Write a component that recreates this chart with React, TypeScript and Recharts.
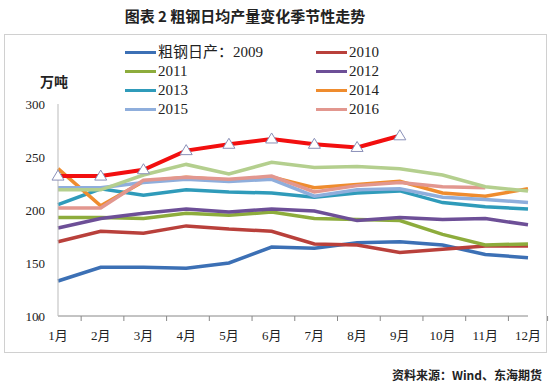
import { LineChart, Line, XAxis, YAxis } from 'recharts';

const months = ['1月', '2月', '3月', '4月', '5月', '6月', '7月', '8月', '9月', '10月', '11月', '12月'];
const yTicks = [100, 150, 200, 250, 300];

const y2009 = [133, 146, 146, 145, 150, 165, 164, 169, 170, 167, 158, 155];
const y2010 = [170, 180, 178, 185, 182, 180, 168, 167, 160, 163, 166, 166];
const y2011 = [193, 193, 192, 197, 195, 198, 192, 191, 190, 177, 167, 168];
const y2012 = [183, 192, 197, 201, 198, 201, 199, 190, 193, 191, 192, 186];
const y2013 = [205, 220, 214, 219, 217, 216, 212, 216, 218, 207, 203, 201];
const y2014 = [239, 204, 227, 231, 228, 231, 221, 224, 227, 216, 213, 220];
const y2015 = [221, 221, 226, 229, 227, 229, 213, 219, 220, 212, 210, 207];
const y2016 = [202, 202, 228, 231, 229, 232, 217, 223, 226, 222, 221, null];
const y2017 = [219, 219, 233, 243, 234, 245, 240, 241, 239, 233, 222, 218];
const y2018 = [232, 232, 238, 256, 262, 267, 262, 259, 270, null, null, null];

const series = [
  { key: 's2009', name: '粗钢日产：2009', values: y2009, color: '#3C70B5', legend: true },
  { key: 's2010', name: '2010', values: y2010, color: '#B9403B', legend: true },
  { key: 's2011', name: '2011', values: y2011, color: '#8DAC3C', legend: true },
  { key: 's2012', name: '2012', values: y2012, color: '#6D4F97', legend: true },
  { key: 's2013', name: '2013', values: y2013, color: '#2F9BBA', legend: true },
  { key: 's2014', name: '2014', values: y2014, color: '#EF8C2E', legend: true },
  { key: 's2015', name: '2015', values: y2015, color: '#8FAEDC', legend: true },
  { key: 's2016', name: '2016', values: y2016, color: '#E2978F', legend: true },
  { key: 's2017', name: '2017', values: y2017, color: '#B4CF8E', legend: false },
  { key: 's2018', name: '2018', values: y2018, color: '#F20F0F', legend: false },
];

const data = months.map((m, i) => {
  const row: any = { month: m };
  series.forEach((s) => { row[s.key] = s.values[i]; });
  return row;
});

const serif = '"Liberation Serif", "Times New Roman", "Noto Sans CJK SC", serif';
const cjk = '"Noto Sans CJK SC", "Liberation Serif", serif';

const PLOT_LEFT = 58;
const PLOT_RIGHT = 528;
const STEP = (PLOT_RIGHT - PLOT_LEFT) / months.length;

const MonthTick = (props: any) => {
  const { x, y, payload, index } = props;
  const last = index === months.length - 1;
  return (
    <g>
      <line x1={x - STEP / 2} x2={x - STEP / 2} y1={y} y2={y + 5} stroke="#888" />
      {last && <line x1={x + STEP / 2} x2={x + STEP / 2} y1={y} y2={y + 5} stroke="#888" />}
      <text x={x} y={y + 24} textAnchor="middle" fontSize={13} fill="#222" fontFamily={serif}>
        {payload.value}
      </text>
    </g>
  );
};

const Triangle = (props: any) => {
  const { cx, cy, index } = props;
  if (cx == null || cy == null) return <g key={index} />;
  return (
    <path
      key={index}
      d={`M${cx},${cy - 6} L${cx + 6},${cy + 4} L${cx - 6},${cy + 4} Z`}
      fill="#fff"
      stroke="#8A90B8"
      strokeWidth={1}
    />
  );
};

export default function App() {
  const legendItems = series.filter((s) => s.legend);
  return (
    <div style={{ position: 'absolute', left: 0, top: 0, width: 550, height: 390, background: '#fff' }}>
      <div
        style={{
          position: 'absolute', left: 0, width: 490, top: 5, textAlign: 'center',
          fontFamily: cjk, fontWeight: 'bold', fontSize: 15, color: '#222',
        }}
      >
        图表 2 粗钢日均产量变化季节性走势
      </div>
      <div style={{ position: 'absolute', left: 4, top: 34, width: 541, height: 317, border: '1px solid #d0d0d0' }} />
      <div style={{ position: 'absolute', left: 40, top: 71, fontFamily: cjk, fontWeight: 'bold', fontSize: 14, color: '#222' }}>
        万吨
      </div>
      <div style={{ position: 'absolute', left: 125, top: 43, width: 400 }}>
        {legendItems.map((s, i) => (
          <div
            key={s.key}
            style={{
              position: 'absolute', left: (i % 2) * 191, top: Math.floor(i / 2) * 19,
              display: 'flex', alignItems: 'center', whiteSpace: 'nowrap',
              fontFamily: serif, fontSize: 15, color: '#222', lineHeight: '19px',
            }}
          >
            <span style={{ display: 'inline-block', width: 31, height: 3, background: s.color, marginRight: 2 }} />
            {s.name}
          </div>
        ))}
      </div>
      <div style={{ position: 'absolute', top: 0, left: 0 }}>
        <LineChart width={550} height={390} data={data} margin={{ top: 104, right: 550 - PLOT_RIGHT, bottom: 44, left: 0 }}>
          <XAxis
            dataKey="month"
            height={30}
            tick={<MonthTick />}
            tickSize={0}
            tickMargin={0}
            interval={0}
            stroke="#888"
          />
          <YAxis
            width={PLOT_LEFT}
            domain={[100, 300]}
            ticks={yTicks}
            tickSize={0}
            tickMargin={13}
            axisLine={{ stroke: '#bbb' }}
            tick={{ fontSize: 13, fill: '#222', fontFamily: serif }}
          />
          {series.map((s) => (
            <Line
              key={s.key}
              dataKey={s.key}
              name={s.name}
              type="linear"
              stroke={s.color}
              strokeWidth={s.key === 's2018' ? 4 : 3.5}
              dot={s.key === 's2018' ? <Triangle /> : false}
              activeDot={false}
              isAnimationActive={false}
            />
          ))}
        </LineChart>
      </div>
      <div
        style={{
          position: 'absolute', right: 8, top: 366, fontFamily: cjk, fontWeight: 'bold', fontSize: 12, color: '#222',
        }}
      >
        资料来源：Wind、东海期货
      </div>
    </div>
  );
}
